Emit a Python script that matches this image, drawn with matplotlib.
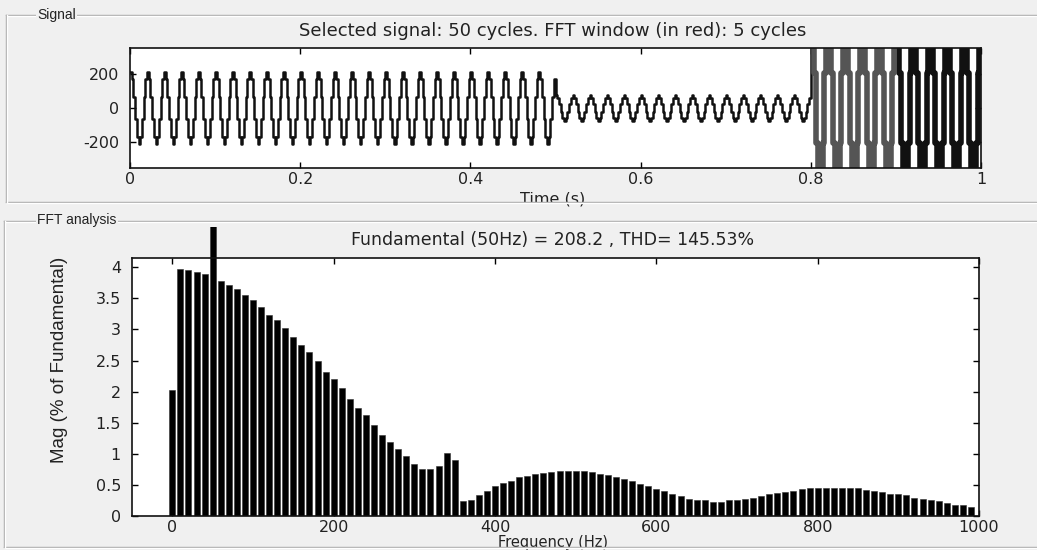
import numpy as np
import matplotlib.pyplot as plt
from matplotlib.lines import Line2D
from matplotlib.transforms import Bbox, TransformedBbox

plt.rcParams['axes.unicode_minus'] = False

# ---- data ----
# one cycle of the sampled 50 Hz waveform (normalised, 10 samples per cycle)
cycle_shape = [1.0, 0.81, 0.31, -0.31, -0.81, -1.0, -0.81, -0.31, 0.31, 0.81]
seg_start = [0.0, 0.5, 0.8]          # s
seg_amp = [210, 75, 650]             # peak value of each segment
f0 = 50
window = (0.8, 0.9)                  # FFT window, 5 cycles

freqs = list(range(0, 1000, 10))
mags = [2.02, 3.98, 3.96, 3.93, 3.89, 100.0, 3.78, 3.71, 3.65, 3.56,
        3.47, 3.36, 3.24, 3.15, 3.02, 2.88, 2.75, 2.63, 2.49, 2.31,
        2.20, 2.06, 1.89, 1.74, 1.62, 1.47, 1.31, 1.19, 1.07, 0.96,
        0.84, 0.76, 0.75, 0.80, 1.01, 0.90, 0.24, 0.26, 0.33, 0.41,
        0.49, 0.53, 0.57, 0.63, 0.65, 0.68, 0.69, 0.70, 0.73, 0.73,
        0.73, 0.72, 0.70, 0.68, 0.66, 0.63, 0.60, 0.56, 0.52, 0.49,
        0.44, 0.41, 0.36, 0.32, 0.27, 0.25, 0.25, 0.22, 0.22, 0.25,
        0.26, 0.27, 0.29, 0.32, 0.35, 0.37, 0.39, 0.41, 0.43, 0.45,
        0.45, 0.45, 0.45, 0.45, 0.45, 0.45, 0.42, 0.40, 0.39, 0.36,
        0.35, 0.33, 0.29, 0.28, 0.25, 0.24, 0.21, 0.18, 0.17, 0.15]

title_sig = 'Selected signal: 50 cycles. FFT window (in red): 5 cycles'
title_fft = 'Fundamental (50Hz) = 208.2 , THD= 145.53%'

# ---- build the stepped signal from the segments ----
n_per = len(cycle_shape)
ends = seg_start[1:] + [1.0]
t_list, v_list = [], []
for s, e, a in zip(seg_start, ends, seg_amp):
    ncyc = int(round((e - s) * f0))
    vals = np.tile(cycle_shape, ncyc) * a
    tt = s + np.arange(len(vals)) / (n_per * f0)
    t_list.append(tt)
    v_list.append(vals)
t = np.concatenate(t_list)
v = np.concatenate(v_list)
t = np.append(t, 1.0)
v = np.append(v, v[-1])

W, H = 1037, 550
bg = '#f0f0f0'
fig = plt.figure(figsize=(W / 100, H / 100), dpi=100, facecolor=bg)

def fx(px):
    return px / W

def fy(py):
    return 1 - py / H

txt = '#222222'

# panel frames (etched group boxes)
def hline(x0, x1, y):
    fig.add_artist(Line2D([fx(x0), fx(x1)], [fy(y), fy(y)], color='#a8a8a8', lw=1))
    fig.add_artist(Line2D([fx(x0), fx(x1)], [fy(y + 1), fy(y + 1)], color='white', lw=1))

def vline(x, y0, y1):
    fig.add_artist(Line2D([fx(x), fx(x)], [fy(y0), fy(y1)], color='#a8a8a8', lw=1))
    fig.add_artist(Line2D([fx(x + 1), fx(x + 1)], [fy(y0), fy(y1)], color='white', lw=1))

hline(6, 1037, 15); hline(6, 1037, 202); vline(6, 15, 202)
hline(4, 1037, 221); hline(4, 1037, 547); vline(4, 221, 547)
fig.text(fx(37), fy(15), 'Signal', ha='left', va='center', fontsize=10,
         family='Liberation Sans', color=txt,
         bbox=dict(facecolor=bg, edgecolor='none', pad=1))
fig.text(fx(37), fy(220), 'FFT analysis', ha='left', va='center', fontsize=10,
         family='Liberation Sans', color=txt,
         bbox=dict(facecolor=bg, edgecolor='none', pad=1))

def style(ax):
    ax.tick_params(direction='in', top=True, right=True, length=4, width=1,
                   pad=3, labelsize=11.5, labelcolor=txt)
    ax.tick_params(axis='y', pad=8)
    for lab in ax.get_xticklabels() + ax.get_yticklabels():
        lab.set_family('DejaVu Sans')
    for sp in ax.spines.values():
        sp.set_linewidth(1.2)
        sp.set_color('#111111')

# ---- top: signal ----
ax1 = fig.add_axes([fx(130), fy(168), fx(981 - 130), (168 - 48) / H])
pre = t <= window[0]
ax1.step(t[pre], v[pre], where='post', color='#111111', lw=1.8)
post = t >= window[1]
ax1.step(t[post], v[post], where='post', color='#111111', lw=4)
m = (t >= window[0]) & (t <= window[1] + 1e-9)
ax1.step(t[m], v[m], where='post', color='#555555', lw=4)
ax1.set_xlim(0, 1)
ax1.set_ylim(-350, 350)
ax1.set_xticks([0, 0.2, 0.4, 0.6, 0.8, 1])
ax1.set_xticklabels(['0', '0.2', '0.4', '0.6', '0.8', '1'])
ax1.set_yticks([-200, 0, 200])
style(ax1)
fig.text(fx(553), fy(31), title_sig, ha='center', va='center',
         fontsize=13, family='DejaVu Sans', color=txt)
fig.text(fx(553), fy(199), 'Time (s)', ha='center', va='center',
         fontsize=11.5, family='DejaVu Sans', color=txt, zorder=-1)

# ---- bottom: FFT bars ----
ax2 = fig.add_axes([fx(132), fy(516), fx(979 - 132), (516 - 258) / H])
bars = ax2.bar(freqs, mags, width=7.5, color='black', edgecolor='#333333', lw=0.4)
ax2.set_xlim(-50, 1000)
ax2.set_ylim(0, 4.15)
ax2.set_xticks([0, 200, 400, 600, 800, 1000])
ax2.set_yticks(np.arange(0, 4.01, 0.5))
ax2.set_yticklabels(['0', '0.5', '1', '1.5', '2', '2.5', '3', '3.5', '4'])
style(ax2)
# the fundamental bar runs past the top of the axes, up to the title
clip = TransformedBbox(Bbox([[fx(132), fy(516)], [fx(979), fy(227)]]), fig.transFigure)
fund = bars[freqs.index(f0)]
fund.set_clip_box(clip)
fund.set_clip_on(True)
fig.text(fx(553), fy(240), title_fft, ha='center', va='center',
         fontsize=12.5, family='DejaVu Sans', color=txt)
fig.text(fx(60), fy(360), 'Mag (% of Fundamental)', rotation=90, ha='center',
         va='center', fontsize=13.5, family='Liberation Sans', color=txt)
fig.text(fx(553), fy(550), 'Frequency (Hz)', ha='center', va='bottom',
         fontsize=10.5, family='DejaVu Sans', color=txt, zorder=-1)

fig.savefig('out.png', dpi=100, facecolor=bg)
